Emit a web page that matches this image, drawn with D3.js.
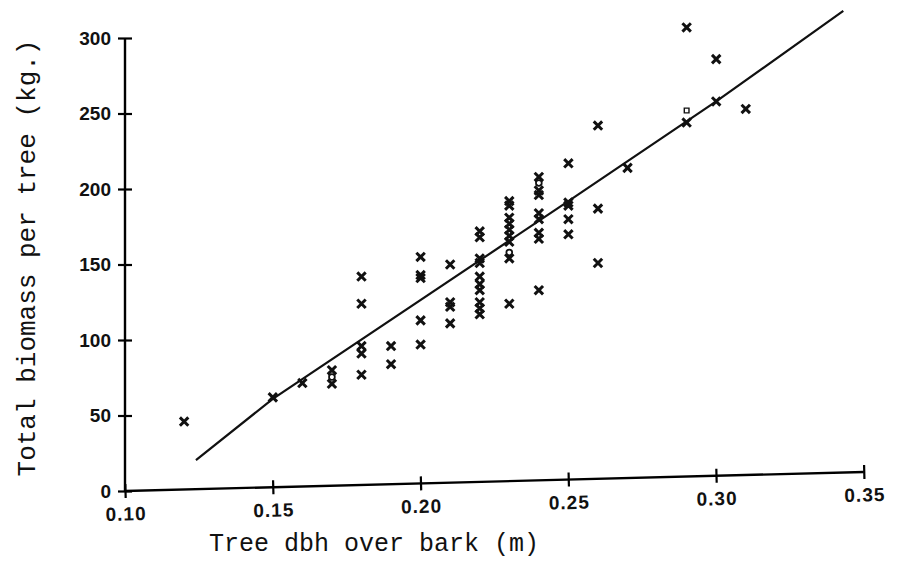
<!DOCTYPE html>
<html>
<head>
<meta charset="utf-8">
<script src="https://cdn.jsdelivr.net/npm/d3@7"></script>
<style>
  body { margin: 0; background: #fff; }
  .tick text { font-family: "Liberation Sans", Arial, sans-serif; font-weight: bold; }
  .title { font-family: "Courier New", "Liberation Mono", monospace; fill: #111; }
</style>
</head>
<body>
<div id="chart"></div>
<script>

// tree dbh (m) / total biomass (kg) for trees marked with x
var crossX = [0.12, 0.15, 0.16, 0.17, 0.17,
              0.18, 0.18, 0.18, 0.18, 0.18,
              0.19, 0.19,
              0.20, 0.20, 0.20, 0.20, 0.20,
              0.21, 0.21, 0.21, 0.21,
              0.22, 0.22, 0.22, 0.22, 0.22, 0.22, 0.22, 0.22, 0.22, 0.22,
              0.23, 0.23, 0.23, 0.23, 0.23, 0.23, 0.23, 0.23, 0.23,
              0.24, 0.24, 0.24, 0.24, 0.24, 0.24, 0.24, 0.24,
              0.25, 0.25, 0.25, 0.25, 0.25,
              0.26, 0.26, 0.26,
              0.27, 0.29, 0.29, 0.30, 0.30, 0.31];
var crossY = [46, 62, 71.5, 80, 71,
              142, 124, 96, 91, 77,
              96, 84,
              155, 143, 141, 113, 97,
              150, 125, 122, 111,
              172, 168, 154, 151, 142, 137, 133, 125, 121, 117,
              192, 189, 181, 177, 173, 169, 165, 154, 124,
              208, 199, 196, 184, 180, 171, 167, 133,
              217, 191, 189, 180, 170,
              242, 187, 151,
              214, 307, 244, 286, 258, 253];

// trees marked with o
var circleX = [0.17, 0.23, 0.24];
var circleY = [75.5, 158, 204];

// the one odd small symbol
var oddX = [0.29];
var oddY = [252];

// fitted line
var fitX = [0.124, 0.15, 0.25, 0.30, 0.343];
var fitY = [20.5, 61, 192, 258, 318];

var xTicks = [0.10, 0.15, 0.20, 0.25, 0.30, 0.35];
var yTicks = [0, 50, 100, 150, 200, 250, 300];

var width = 899, height = 563;

var svg = d3.select("#chart").append("svg")
    .attr("width", width)
    .attr("height", height);

// scales
var x = d3.scaleLinear().domain([0.10, 0.35]).range([125, 864]);
var y = d3.scaleLinear().domain([0, 300]).range([491, 38]);

// y axis, ticks cross the line
var yAxis = svg.append("g")
    .attr("transform", "translate(" + x(0.10) + ",0)")
    .call(d3.axisLeft(y).tickValues(yTicks).tickSize(7).tickPadding(7));
yAxis.select(".domain").attr("d", "M0," + y(0) + "V" + y(300)).attr("stroke-width", 2.4);
yAxis.selectAll(".tick line").attr("x1", 7).attr("stroke-width", 2.2);
yAxis.selectAll(".tick text").style("font-size", "19px").attr("fill", "#111");

// x axis, drawn slightly off level like the original
var tilt = Math.atan2(-19, x(0.35) - x(0.10)) * 180 / Math.PI;
var xAxis = svg.append("g")
    .attr("transform", "rotate(" + tilt + "," + x(0.10) + "," + y(0) + ") translate(0," + y(0) + ")")
    .call(d3.axisBottom(x).tickValues(xTicks).tickFormat(d3.format(".2f")).tickSize(7).tickPadding(9));
xAxis.select(".domain").attr("d", "M" + x(0.10) + ",0H" + x(0.35)).attr("stroke-width", 2.4);
xAxis.selectAll(".tick line").attr("y1", -7).attr("stroke-width", 2.2);
xAxis.selectAll(".tick text").style("font-size", "19px").style("letter-spacing", "1px").attr("fill", "#111");

// fitted line
var line = d3.line()
    .x(function(d){ return x(d[0]); })
    .y(function(d){ return y(d[1]); });

svg.append("path")
    .datum(d3.zip(fitX, fitY))
    .attr("d", line)
    .attr("fill", "none")
    .attr("stroke", "#111")
    .attr("stroke-width", 2.2);

// x markers
svg.selectAll(".cross")
    .data(d3.zip(crossX, crossY))
    .enter()
    .append("path")
    .attr("class", "cross")
    .attr("d", d3.symbol().type(d3.symbolTimes).size(48))
    .attr("transform", function(d){ return "translate(" + x(d[0]) + "," + y(d[1]) + ")"; })
    .attr("fill", "none")
    .attr("stroke", "#111")
    .attr("stroke-width", 3);

// o markers
svg.selectAll(".ring")
    .data(d3.zip(circleX, circleY))
    .enter()
    .append("path")
    .attr("class", "ring")
    .attr("d", d3.symbol().type(d3.symbolCircle).size(26))
    .attr("transform", function(d){ return "translate(" + x(d[0]) + "," + y(d[1]) + ")"; })
    .attr("fill", "#fff")
    .attr("stroke", "#111")
    .attr("stroke-width", 1.8);

svg.selectAll(".odd")
    .data(d3.zip(oddX, oddY))
    .enter()
    .append("path")
    .attr("class", "odd")
    .attr("d", d3.symbol().type(d3.symbolSquare).size(22))
    .attr("transform", function(d){ return "translate(" + x(d[0]) + "," + y(d[1]) + ")"; })
    .attr("fill", "#fff")
    .attr("stroke", "#111")
    .attr("stroke-width", 1.4);

// axis titles
svg.append("text")
    .attr("class", "title")
    .attr("x", 374)
    .attr("y", 551)
    .attr("text-anchor", "middle")
    .style("font-size", "25px")
    .text("Tree dbh over bark (m)");

svg.append("text")
    .attr("class", "title")
    .attr("transform", "translate(35,258) rotate(-90)")
    .attr("text-anchor", "middle")
    .style("font-size", "26px")
    .text("Total biomass per tree (kg.)");

</script>
</body>
</html>
